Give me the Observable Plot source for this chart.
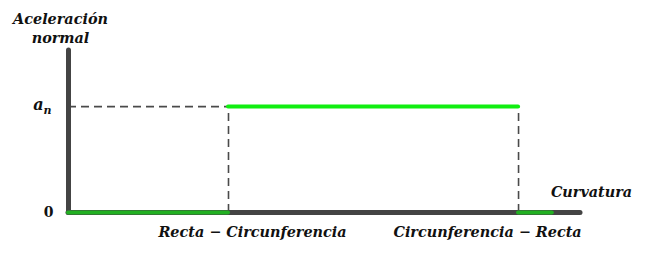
<!DOCTYPE html>
<html><head><meta charset="utf-8">
<script src="https://cdn.jsdelivr.net/npm/d3@7"></script>
<script src="https://cdn.jsdelivr.net/npm/@observablehq/plot@0.6"></script>
<style>body{margin:0;background:#fff}</style>
</head><body><div id="chart"></div>
<script>
// curvature positions (arbitrary units) of transitions
const transitions = [3.125, 8.79];
const xEnd = 10;
const greenEnd = 9.45;
const an = 1;
const yTop = 1.53;
// normal acceleration segments
const segments = [
  {x1: 0, x2: 3.125, y: 0, c: "#22b022"},
  {x1: 3.125, x2: 8.79, y: 1, c: "#11ee11"},
  {x1: 8.79, x2: 9.45, y: 0, c: "#22b022"}
];
const bottomLabels = ["Recta − Circunferencia", "Circunferencia − Recta"];
const font = "'DejaVu Serif', serif";
const fs = 14.4;

const chart = Plot.plot({
  width: 654, height: 254,
  marginLeft: 68, marginRight: 74, marginTop: 50, marginBottom: 42,
  x: {domain: [0, xEnd], axis: null},
  y: {domain: [0, yTop], axis: null},
  marks: [
    // dashed guides
    Plot.ruleY([an], {x1: 0, x2: transitions[0], stroke: "#4a4a4a", strokeWidth: 1.6, strokeDasharray: "8,5"}),
    Plot.ruleX(transitions, {y1: 0, y2: an, stroke: "#4a4a4a", strokeWidth: 1.6, strokeDasharray: "8,5"}),
    // axes
    Plot.ruleX([0], {y1: 0, y2: yTop, stroke: "#444", strokeWidth: 5, strokeLinecap: "round"}),
    Plot.ruleY([0], {x1: 0, x2: xEnd, stroke: "#444", strokeWidth: 5, strokeLinecap: "round"}),
    // green segments
    Plot.ruleY(segments, {x1: "x1", x2: "x2", y: "y", stroke: "c", strokeWidth: 4, strokeLinecap: "round"}),
    // y tick labels
    Plot.text(["0"], {x: 0, y: 0, dx: -20, text: d => d, fontFamily: font, fontWeight: "bold", fontSize: 14, fill: "#111"}),
    Plot.text(["a"], {x: 0, y: an, dx: -30, dy: -2, text: d => d, fontFamily: font, fontWeight: "bold", fontStyle: "italic", fontSize: 16, fill: "#111"}),
    Plot.text(["n"], {x: 0, y: an, dx: -21, dy: 4, text: d => d, fontFamily: font, fontWeight: "bold", fontStyle: "italic", fontSize: 11, fill: "#111"}),
    // axis titles
    Plot.text(["Aceleración\nnormal"], {x: 0, y: yTop, dy: -23, dx: -8, text: d => d, lineHeight: 1.35, fontFamily: font, fontWeight: "bold", fontStyle: "italic", fontSize: fs, fill: "#111"}),
    Plot.text(["Curvatura"], {x: xEnd, y: 0, dx: 11, dy: -20, text: d => d, fontFamily: font, fontWeight: "bold", fontStyle: "italic", fontSize: fs, fill: "#111"}),
    // transition labels
    Plot.text([bottomLabels[0]], {x: transitions[0], y: 0, dx: 24, dy: 20, text: d => d, fontFamily: font, fontWeight: "bold", fontStyle: "italic", fontSize: fs, fill: "#111"}),
    Plot.text([bottomLabels[1]], {x: transitions[1], y: 0, dx: -31, dy: 20, text: d => d, fontFamily: font, fontWeight: "bold", fontStyle: "italic", fontSize: fs, fill: "#111"})
  ]
});
document.getElementById("chart").append(chart);
</script>
</body></html>
